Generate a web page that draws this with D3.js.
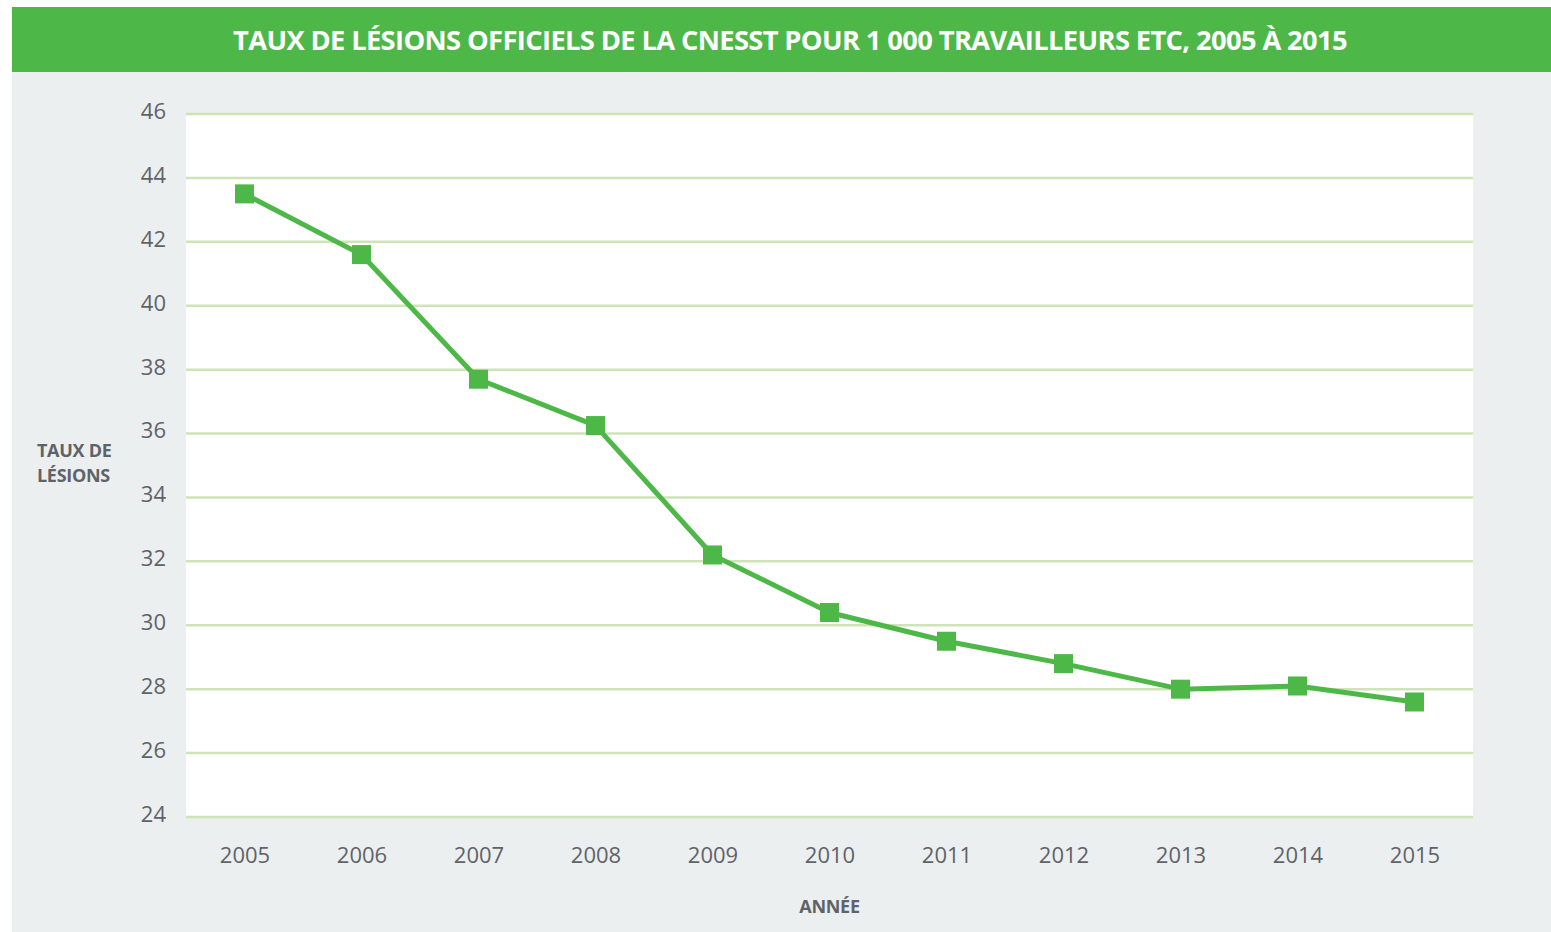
<!DOCTYPE html>
<html>
<head>
<meta charset="utf-8">
<script src="https://cdn.jsdelivr.net/npm/d3@7"></script>
<style>
  body { margin: 0; background: #fff; }
  svg { display: block; }
</style>
</head>
<body>
<div id="chart"></div>
<script>
// data
const years = ["2005", "2006", "2007", "2008", "2009", "2010", "2011", "2012", "2013", "2014", "2015"]
const rates = [43.5, 41.6, 37.7, 36.25, 32.2, 30.4, 29.5, 28.8, 28.0, 28.1, 27.6]
const yTicks = [24, 26, 28, 30, 32, 34, 36, 38, 40, 42, 44, 46]

const title = "TAUX DE LÉSIONS OFFICIELS DE LA CNESST POUR 1 000 TRAVAILLEURS ETC, 2005 À 2015"

const width = 1551, height = 932
const green = "#4db848"
const grid = "#cfe3b8"
const textGrey = "#5f6368"

const svg = d3.select("#chart").append("svg")
  .attr("width", width)
  .attr("height", height)

// panel background + header band
svg.append("rect")
  .attr("x", 12).attr("y", 7)
  .attr("width", width - 12).attr("height", height - 7)
  .attr("fill", "#ebeff0")
svg.append("rect")
  .attr("x", 12).attr("y", 7)
  .attr("width", width - 12).attr("height", 65)
  .attr("fill", green)
svg.append("text")
  .attr("x", 790).attr("y", 50)
  .attr("text-anchor", "middle")
  .attr("font-family", "Open Sans, sans-serif")
  .attr("font-weight", 700)
  .attr("font-size", 26)
  .attr("letter-spacing", -0.6)
  .attr("textLength", 1114)
  .attr("lengthAdjust", "spacingAndGlyphs")
  .attr("fill", "#fff")
  .text(title)

const plot = { left: 186, right: 1473, top: 114, bottom: 817 }

svg.append("rect")
  .attr("x", plot.left).attr("y", plot.top)
  .attr("width", plot.right - plot.left).attr("height", plot.bottom - plot.top)
  .attr("fill", "#fff")

const x = d3.scalePoint()
  .domain(years)
  .range([plot.left, plot.right])
  .padding(0.5)

const y = d3.scaleLinear()
  .domain([24, 46])
  .range([plot.bottom, plot.top])

// gridlines
svg.append("g")
  .selectAll("line.grid")
  .data(yTicks)
  .enter()
    .append("line")
    .attr("class", "grid")
    .attr("x1", plot.left).attr("x2", plot.right)
    .attr("y1", d => y(d)).attr("y2", d => y(d))
    .attr("stroke", grid)
    .attr("stroke-width", 2.5)

// y axis labels
const yAxis = svg.append("g")
  .attr("transform", `translate(${plot.left - 20},0)`)
  .call(d3.axisLeft(y).tickValues(yTicks).tickSize(0).tickPadding(0))
yAxis.select(".domain").remove()
yAxis.selectAll("text")
  .attr("font-family", "Open Sans, sans-serif")
  .attr("font-size", 22)
  .attr("fill", textGrey)
  .attr("dy", "0.2em")

// x axis labels
const xAxis = svg.append("g")
  .attr("transform", `translate(0,${plot.bottom + 29})`)
  .call(d3.axisBottom(x).tickSize(0).tickPadding(0))
xAxis.select(".domain").remove()
xAxis.selectAll("text")
  .attr("font-family", "Open Sans, sans-serif")
  .attr("font-size", 22)
  .attr("fill", textGrey)
  .attr("dy", "0.75em")

// axis titles
const yTitle = svg.append("text")
  .attr("font-family", "Open Sans, sans-serif")
  .attr("font-weight", 700)
  .attr("font-size", 18)
  .attr("letter-spacing", -0.3)
  .attr("fill", textGrey)
yTitle.append("tspan").attr("x", 37).attr("y", 457).text("TAUX DE")
yTitle.append("tspan").attr("x", 37).attr("y", 482).text("LÉSIONS")

svg.append("text")
  .attr("x", x("2010")).attr("y", 913)
  .attr("text-anchor", "middle")
  .attr("font-family", "Open Sans, sans-serif")
  .attr("font-weight", 700)
  .attr("font-size", 18)
  .attr("letter-spacing", -0.3)
  .attr("fill", textGrey)
  .text("ANNÉE")

// series
const data = years.map((yr, i) => ({ year: yr, value: rates[i] }))

svg.append("path")
  .datum(data)
  .attr("d", d3.line().x(d => x(d.year)).y(d => y(d.value)))
  .attr("fill", "none")
  .attr("stroke", green)
  .attr("stroke-width", 5)
  .attr("stroke-linejoin", "round")

const size = 19
svg.append("g")
  .selectAll("rect.marker")
  .data(data)
  .enter()
    .append("rect")
    .attr("class", "marker")
    .attr("x", d => x(d.year) - size / 2)
    .attr("y", d => y(d.value) - size / 2)
    .attr("width", size)
    .attr("height", size)
    .attr("fill", green)
</script>
</body>
</html>
